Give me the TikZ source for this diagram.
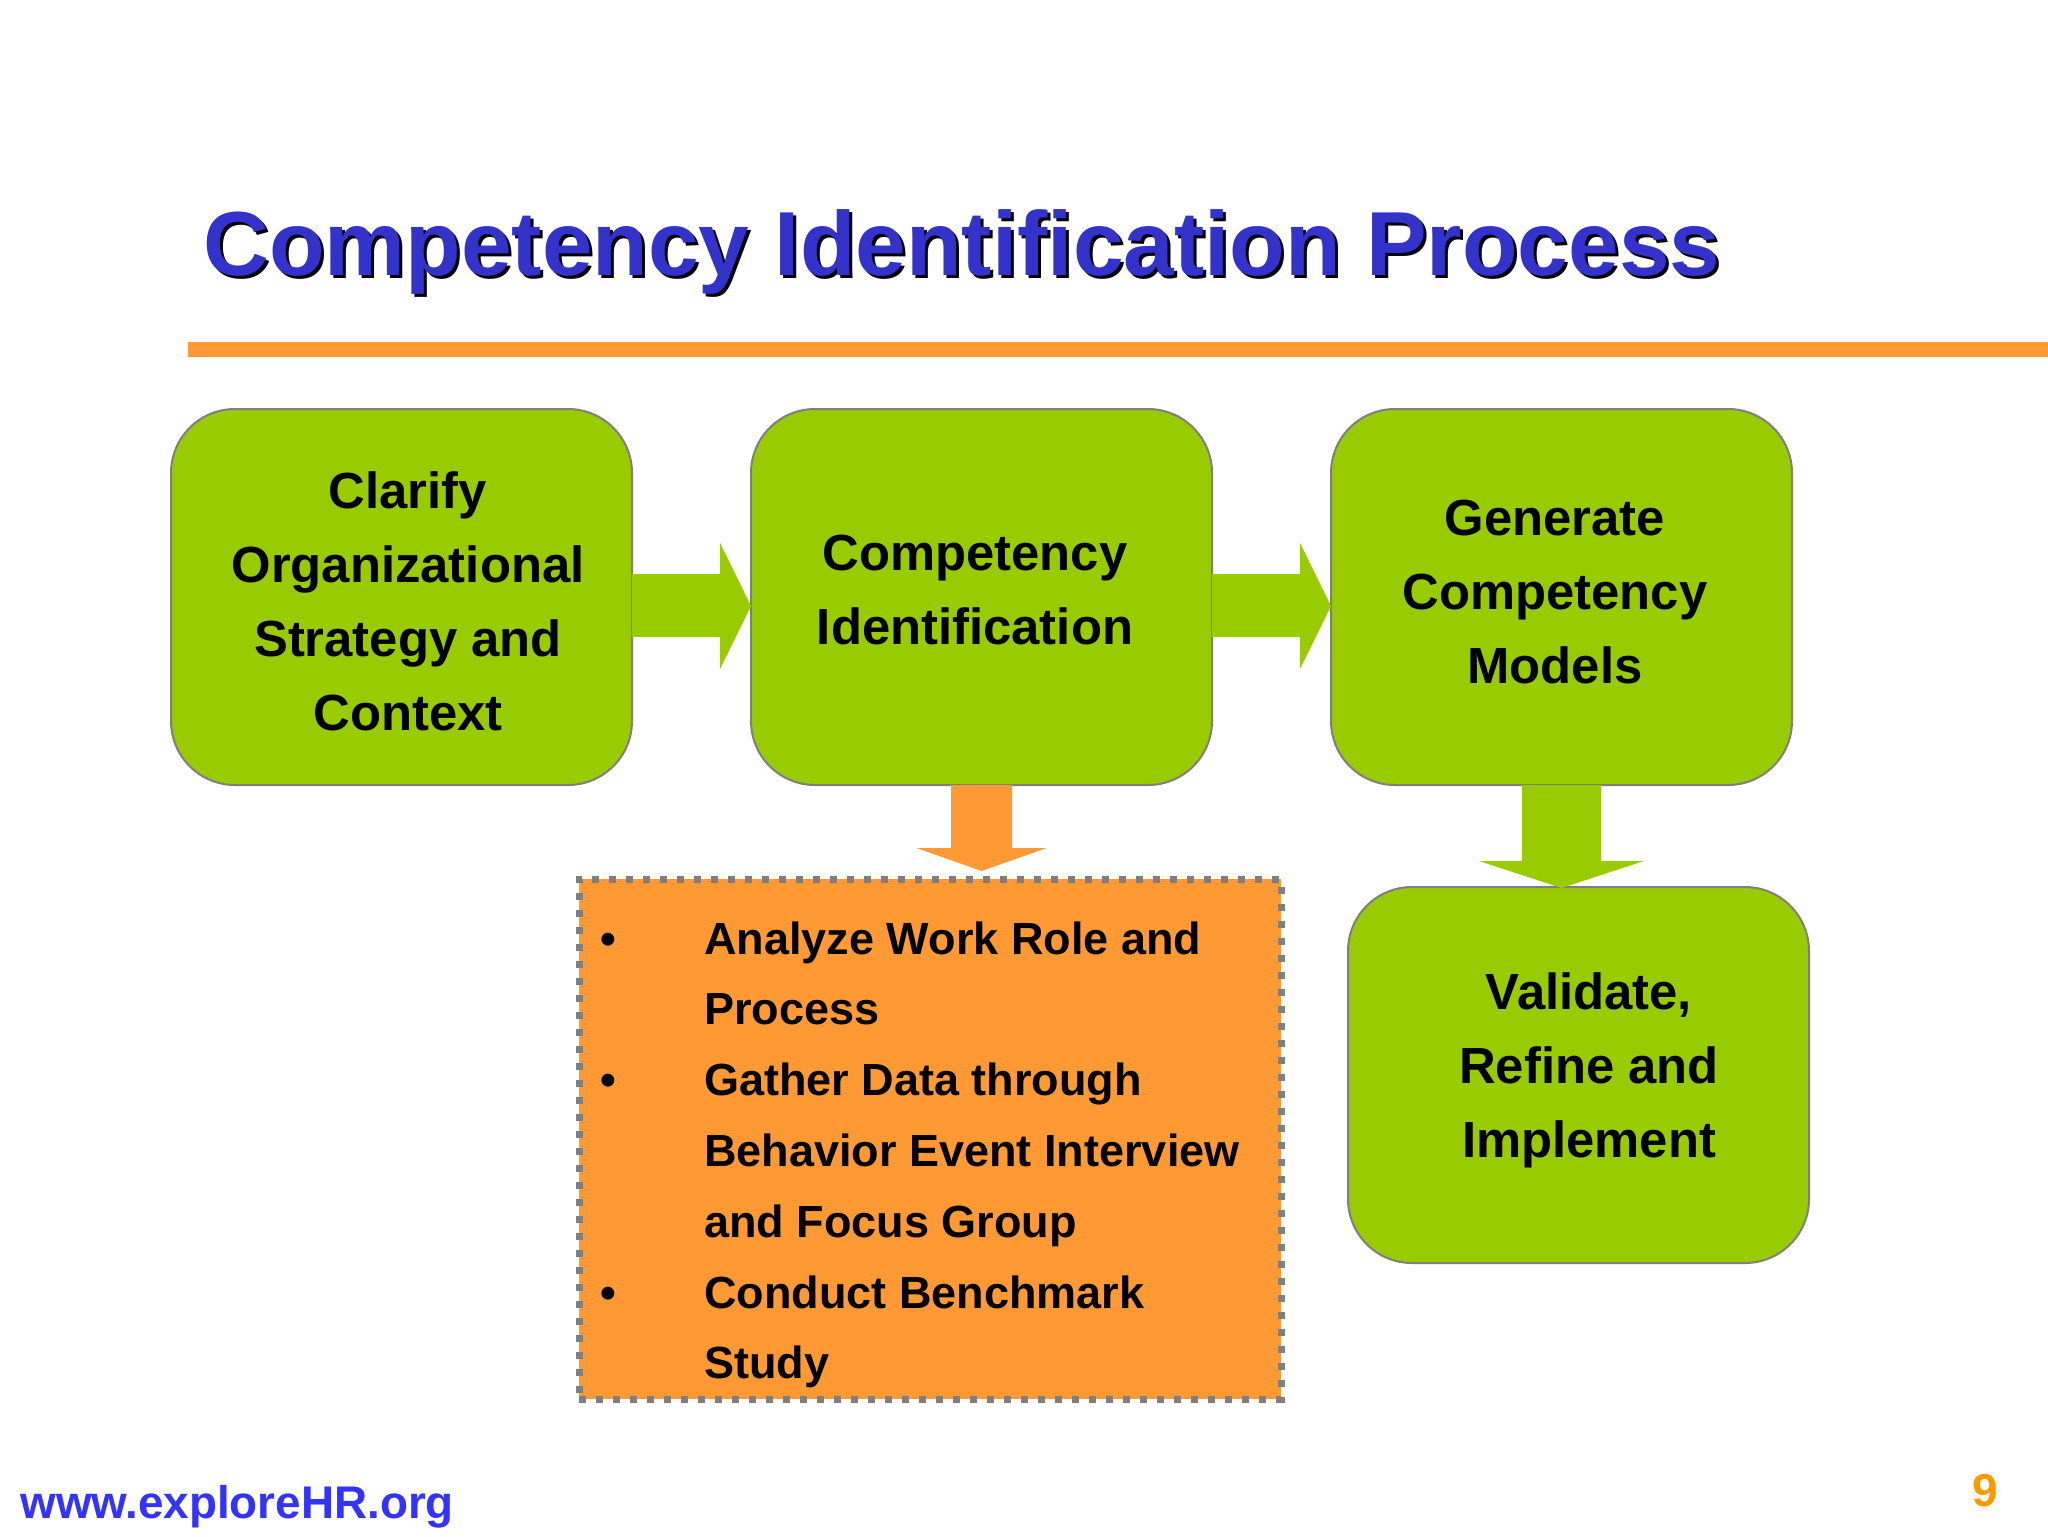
\documentclass[tikz,border=0pt]{standalone}
\usepackage{fontspec}
\setmainfont{Liberation Sans}
\usetikzlibrary{calc}
\definecolor{titleblue}{HTML}{3333CC}
\definecolor{linkblue}{HTML}{3333FF}
\definecolor{hrorange}{HTML}{FF9933}
\definecolor{numorange}{HTML}{FF9900}
\definecolor{leaf}{HTML}{99CC00}
\definecolor{edgegray}{HTML}{7F7F7F}
\begin{document}
\begin{tikzpicture}[x=0.5pt,y=-0.5pt,
  stage/.style={draw=edgegray, line width=1pt, fill=leaf, rounded corners=32pt,
    minimum width=230.5pt, minimum height=188pt, inner sep=0pt, outer sep=0pt},
  stagetext/.style={inner sep=0pt, align=center, font=\fontsize{25.4}{37}\selectfont\bfseries},
  listbox/.style={draw=edgegray, line width=3.5pt, dash pattern=on 3.5pt off 5pt,
    fill=hrorange, minimum width=351pt, minimum height=260pt, inner sep=0pt, outer sep=0pt},
  greenarrow/.style={fill=leaf, draw=none},
  orangearrow/.style={fill=hrorange, draw=none},
  titlefont/.style={anchor=base west, inner sep=0pt, font=\fontsize{45.5}{54}\selectfont\bfseries}]

\useasboundingbox (0,0) rectangle (2048,1536);
\fill[white] (0,0) rectangle (2048,1536);

% title with shadow
\node[titlefont, text=black] (titleshadow) at (206,278) {Competency Identification Process};
\node[titlefont, text=titleblue] (title) at (203,275) {Competency Identification Process};

% orange rule
\fill[hrorange] (188,342) rectangle (2048,357);

% stages
\node[stage] (b1) at (401.5,597) {};
\node[stage] (b2) at (981.5,597) {};
\node[stage] (b3) at (1561.5,597) {};
\node[stage] (b4) at (1578.5,1075) {};
\node[listbox] (list) at (930,1139) {};

\node[stagetext] (t1) at ($(b1.center)+(6.5,4)$) {Clarify\\Organizational\\Strategy and\\Context};
\node[stagetext] (t2) at ($(b2.center)+(-6.5,-6.5)$) {Competency\\Identification};
\node[stagetext] (t3) at ($(b3.center)+(-6.5,-5)$) {Generate\\Competency\\Models};
\node[stagetext] (t4) at ($(b4.center)+(10.5,-5)$) {Validate,\\Refine and\\Implement};

% right arrows
\fill[greenarrow] ($(b1.east)+(0,-23)$) -- ($(b2.west)+(-31,-23)$) -- ($(b2.west)+(-31,-54)$)
  -- ($(b2.west)+(0,9)$) -- ($(b2.west)+(-31,72)$) -- ($(b2.west)+(-31,40)$)
  -- ($(b1.east)+(0,40)$) -- cycle;
\fill[greenarrow] ($(b2.east)+(0,-23)$) -- ($(b3.west)+(-31,-23)$) -- ($(b3.west)+(-31,-54)$)
  -- ($(b3.west)+(0,9)$) -- ($(b3.west)+(-31,72)$) -- ($(b3.west)+(-31,40)$)
  -- ($(b2.east)+(0,40)$) -- cycle;

% down arrows
\fill[orangearrow] ($(b2.south)+(-30.5,0)$) -- ($(b2.south)+(30.5,0)$)
  -- ($(b2.south |- list.north)+(30.5,-31)$) -- ($(b2.south |- list.north)+(65,-31)$)
  -- ($(b2.south |- list.north)+(0,-8)$) -- ($(b2.south |- list.north)+(-65,-31)$)
  -- ($(b2.south |- list.north)+(-30.5,-31)$) -- cycle;
\fill[greenarrow] ($(b3.south)+(-39.5,0)$) -- ($(b3.south)+(39.5,0)$)
  -- ($(b3.south |- b4.north)+(39.5,-26)$) -- ($(b3.south |- b4.north)+(82.5,-26)$)
  -- ($(b3.south |- b4.north)+(0,1)$) -- ($(b3.south |- b4.north)+(-82.5,-26)$)
  -- ($(b3.south |- b4.north)+(-39.5,-26)$) -- cycle;

% list text
\node[anchor=base west, inner sep=0pt, font=\fontsize{22.5}{35.4}\selectfont\bfseries] (items)
  at ($(list.north west)+(125,75)$) {\parbox[t]{290pt}{\fontsize{22.5}{35.4}\selectfont\bfseries
  \makebox[0pt][r]{•\hspace{44pt}}Analyze Work Role and\\
  Process\\
  \makebox[0pt][r]{•\hspace{44pt}}Gather Data through\\
  Behavior Event Interview\\
  and Focus Group\\
  \makebox[0pt][r]{•\hspace{44pt}}Conduct Benchmark\\
  Study}};

% footer
\node[anchor=base west, inner sep=0pt, text=linkblue, font=\fontsize{22.9}{27}\selectfont\bfseries] (site) at (20,1518) {www.exploreHR.org};
\node[anchor=base, inner sep=0pt, text=numorange, font=\fontsize{23}{27}\selectfont\bfseries] (page) at (1985,1506) {9};
\end{tikzpicture}
\end{document}
